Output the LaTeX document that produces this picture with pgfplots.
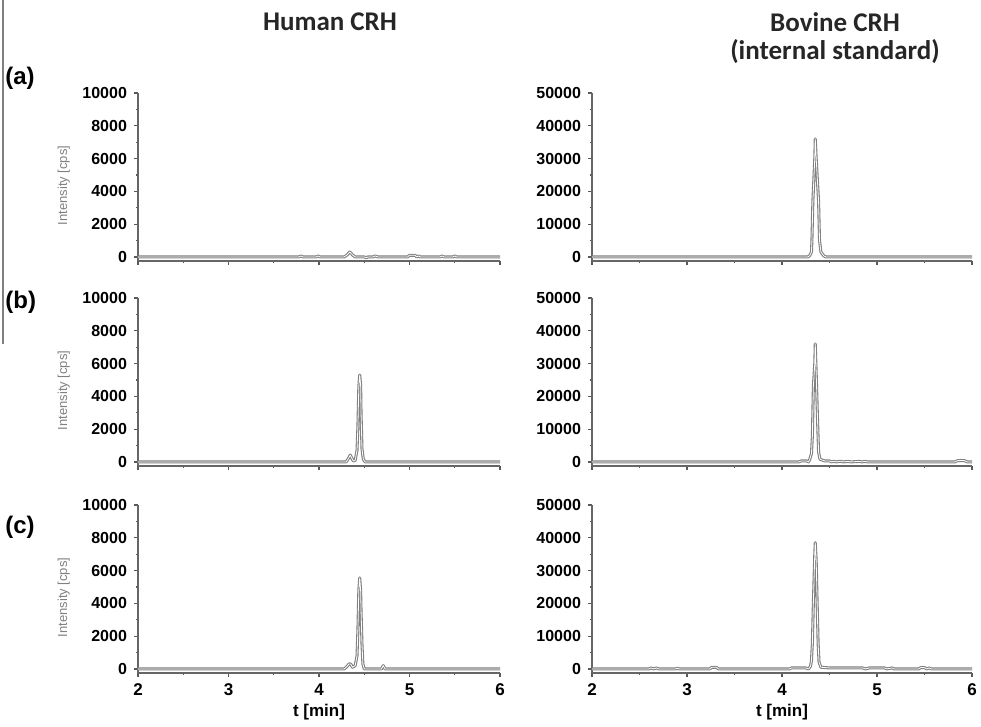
\documentclass[border=0pt]{standalone}
\usepackage{pgfplots}
\pgfplotsset{compat=1.18}
\usepackage{fontspec}
\setmainfont{Liberation Sans}
\newfontfamily\titlefont{Carlito}

\pgfplotsset{
  chrom/.style={
    scale only axis, height=84pt,
    axis x line*=bottom, axis y line*=left,
    axis line style={-, draw=gray!80!black, line width=0.8pt},
    every outer x axis line/.append style={-},
    every outer y axis line/.append style={-},
    xmin=2, xmax=6, xtick={2,3,4,5,6}, minor x tick num=1, minor y tick num=1,
    scaled ticks=false,
    tick align=outside, major tick length=2pt, minor tick length=1.2pt,
    tick style={draw=gray!70!black, line width=0.6pt},
    yticklabel style={font=\fontsize{8}{8}\selectfont\bfseries},
    xticklabel style={font=\fontsize{8.5}{8.5}\selectfont\bfseries},
    /pgf/number format/assume math mode=true,
    /pgf/number format/1000 sep={},
    xlabel style={font=\fontsize{8.5}{8.5}\selectfont\bfseries, at={(axis description cs:0.5,-0.232)}, anchor=center},
  },
  leftcol/.style={chrom, width=181pt, ymin=-250, ymax=10000, ytick={0,2000,4000,6000,8000,10000},
    ylabel={Intensity [cps]},
    ylabel style={font=\fontsize{6.5}{6.5}\selectfont, text=gray, at={(axis description cs:-0.205,0.45)}, anchor=center, rotate=0}},
  rightcol/.style={chrom, width=190pt, ymin=-1250, ymax=50000, ytick={0,10000,20000,30000,40000,50000}},
  trace/.style={draw=gray, line width=0.55pt, double=white, double distance=0.4pt, line join=round},
}

\begin{document}
\begin{tikzpicture}
\useasboundingbox (0,0) rectangle (490.5pt,-363.5pt);

% stray vertical rule at the left edge
\draw[gray, line width=0.6pt] (1.5pt,0) -- (1.5pt,-172pt);

% column titles
\node[font=\titlefont\bfseries\fontsize{13.5}{13.5}\selectfont, text=black!85] at (165pt,-11pt) {Human CRH};
\node[font=\titlefont\bfseries\fontsize{13.5}{13.5}\selectfont, text=black!85] at (417.5pt,-11pt) {Bovine CRH};
\node[font=\titlefont\bfseries\fontsize{13.5}{13.5}\selectfont, text=black!85] at (417.5pt,-26pt) {(internal standard)};

% row labels
\node[font=\fontsize{12}{12}\selectfont\bfseries, anchor=west, inner sep=0pt] at (2.5pt,-39pt) {(a)};
\node[font=\fontsize{12}{12}\selectfont\bfseries, anchor=west, inner sep=0pt] at (2.5pt,-151pt) {(b)};
\node[font=\fontsize{12}{12}\selectfont\bfseries, anchor=west, inner sep=0pt] at (2.5pt,-263.5pt) {(c)};

% ---------- row (a) ----------
\begin{axis}[leftcol, at={(69pt,-130.5pt)}, anchor=south west, xticklabels={}]
\addplot[trace] coordinates {(2,0) (3.78,0) (3.80,60) (3.82,0) (3.97,0) (3.99,60) (4.01,0) (4.28,0) (4.31,120) (4.34,300) (4.37,120) (4.40,0) (4.50,0) (4.52,-60) (4.54,0) (4.60,0) (4.62,60) (4.65,0) (4.98,0) (5.00,100) (5.06,100) (5.08,0) (5.10,60) (5.12,0) (5.34,0) (5.36,60) (5.38,0) (5.48,0) (5.50,60) (5.52,0) (6,0)};
\end{axis}
\begin{axis}[rightcol, at={(296pt,-130.5pt)}, anchor=south west, xticklabels={}]
\addplot[trace] coordinates {(2,0) (4.27,0) (4.29,300) (4.31,1500) (4.315,5000) (4.325,17000) (4.345,30000) (4.35,36000) (4.36,30000) (4.385,17000) (4.395,5000) (4.41,1500) (4.44,300) (4.46,0) (6,0)};
\end{axis}

% ---------- row (b) ----------
\begin{axis}[leftcol, at={(69pt,-233pt)}, anchor=south west, xticklabels={}]
\addplot[trace] coordinates {(2,0) (4.30,0) (4.33,250) (4.345,420) (4.36,250) (4.38,50) (4.40,100) (4.42,700) (4.43,2200) (4.44,4600) (4.45,5300) (4.46,4700) (4.465,2900) (4.475,800) (4.49,150) (4.51,0) (6,0)};
\end{axis}
\begin{axis}[rightcol, at={(296pt,-233pt)}, anchor=south west, xticklabels={}]
\addplot[trace] coordinates {(2,0) (4.18,0) (4.20,300) (4.26,300) (4.28,0) (4.29,600) (4.31,2500) (4.32,8000) (4.33,23000) (4.345,30000) (4.35,36000) (4.36,27000) (4.375,12000) (4.385,3000) (4.40,800) (4.45,300) (4.50,300) (4.52,0) (4.55,200) (4.57,0) (4.62,200) (4.64,0) (4.70,150) (4.72,0) (4.82,150) (4.84,0) (4.88,150) (4.90,0) (5.82,0) (5.85,400) (5.92,400) (5.95,0) (6,0)};
\end{axis}

% ---------- row (c) ----------
\begin{axis}[leftcol, at={(69pt,-336.5pt)}, anchor=south west, xlabel={t [min]}]
\addplot[trace] coordinates {(2,0) (4.28,0) (4.31,150) (4.33,300) (4.35,300) (4.37,100) (4.40,200) (4.42,800) (4.43,2400) (4.44,4800) (4.45,5550) (4.46,4800) (4.465,3500) (4.475,1500) (4.485,300) (4.50,0) (4.69,0) (4.71,200) (4.73,0) (6,0)};
\end{axis}
\begin{axis}[rightcol, at={(296pt,-336.5pt)}, anchor=south west, xlabel={t [min]}]
\addplot[trace] coordinates {(2,0) (2.60,0) (2.62,300) (2.65,0) (2.68,300) (2.70,0) (2.88,0) (2.90,200) (2.92,0) (3.24,0) (3.26,500) (3.31,500) (3.33,0) (4.08,0) (4.10,300) (4.25,300) (4.28,0) (4.30,800) (4.31,2500) (4.32,8000) (4.33,20000) (4.345,35000) (4.35,38500) (4.36,33000) (4.37,20000) (4.38,8000) (4.39,2000) (4.41,500) (4.50,300) (4.85,300) (4.88,0) (4.92,300) (5.08,300) (5.10,0) (5.16,300) (5.18,0) (5.44,0) (5.46,400) (5.50,400) (5.52,0) (5.55,300) (5.57,0) (6,0)};
\end{axis}
\end{tikzpicture}
\end{document}
